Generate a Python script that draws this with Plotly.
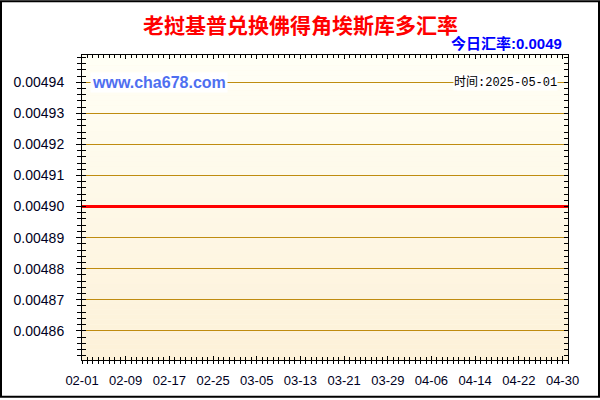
import plotly.graph_objects as go
import pandas as pd

TITLE = "老挝基普兑换佛得角埃斯库多汇率"
TODAY_LABEL = "今日汇率:0.0049"
SITE_LABEL = "www.cha678.com"
TIME_LABEL = "时间:2025-05-01"

dates = pd.date_range("2025-02-01", "2025-05-01", freq="D")
rates = [
    0.0049, 0.0049, 0.0049, 0.0049, 0.0049, 0.0049, 0.0049, 0.0049, 0.0049, 0.0049,
    0.0049, 0.0049, 0.0049, 0.0049, 0.0049, 0.0049, 0.0049, 0.0049, 0.0049, 0.0049,
    0.0049, 0.0049, 0.0049, 0.0049, 0.0049, 0.0049, 0.0049, 0.0049, 0.0049, 0.0049,
    0.0049, 0.0049, 0.0049, 0.0049, 0.0049, 0.0049, 0.0049, 0.0049, 0.0049, 0.0049,
    0.0049, 0.0049, 0.0049, 0.0049, 0.0049, 0.0049, 0.0049, 0.0049, 0.0049, 0.0049,
    0.0049, 0.0049, 0.0049, 0.0049, 0.0049, 0.0049, 0.0049, 0.0049, 0.0049, 0.0049,
    0.0049, 0.0049, 0.0049, 0.0049, 0.0049, 0.0049, 0.0049, 0.0049, 0.0049, 0.0049,
    0.0049, 0.0049, 0.0049, 0.0049, 0.0049, 0.0049, 0.0049, 0.0049, 0.0049, 0.0049,
    0.0049, 0.0049, 0.0049, 0.0049, 0.0049, 0.0049, 0.0049, 0.0049, 0.0049, 0.0049,
]
y_range = [0.0048506, 0.0049488]
x_range = ["2025-02-01", "2025-05-01"]

W, H = 600, 400
ML, MR, MT, MB = 82, 32, 55, 38
PW, PH = W - ML - MR, H - MT - MB

DAY = 86400000
axis_font = dict(family="Liberation Sans, Arial", size=13, color="#000022")

fig = go.Figure()

# background gradient bands (plot area)
top_c = (255, 255, 246)
bot_c = (253, 241, 216)
N = 60
for i in range(N):
    t = (i + 0.5) / N
    c = tuple(round(top_c[k] + (bot_c[k] - top_c[k]) * t) for k in range(3))
    fig.add_shape(type="rect", xref="paper", yref="paper",
                  x0=0, x1=1, y0=1 - (i + 1) / N, y1=1 - i / N,
                  line=dict(width=0), fillcolor="rgb(%d,%d,%d)" % c, layer="below")

fig.add_trace(go.Scatter(x=dates, y=rates, mode="lines",
                         line=dict(color="#FF0000", width=3),
                         showlegend=False, hoverinfo="skip"))
# helper trace for overlay axes (crossing ticks)
fig.add_trace(go.Scatter(x=dates, y=rates, mode="lines", xaxis="x2", yaxis="y2",
                         line=dict(width=0), opacity=0,
                         showlegend=False, hoverinfo="skip"))

fig.update_layout(
    width=W, height=H,
    margin=dict(l=ML, r=MR, t=MT, b=MB, pad=0),
    paper_bgcolor="white",
    plot_bgcolor="#FFF8E8",
    showlegend=False,
    xaxis=dict(
        type="date", range=x_range, tickformat="%m-%d",
        tick0="2025-02-01", dtick=8 * DAY,
        ticks="outside", ticklen=3, tickcolor="black", tickwidth=1,
        minor=dict(dtick=DAY, tick0="2025-02-01", ticks="outside", ticklen=3,
                   tickcolor="black", showgrid=False),
        showline=True, linecolor="black", linewidth=1, mirror=True,
        showgrid=False, zeroline=False, tickfont=axis_font,
        ticklabelstandoff=5,
    ),
    yaxis=dict(
        range=y_range, tick0=0.0049, dtick=0.00001, tickformat=".5f",
        ticks="outside", ticklen=5, tickcolor="black", tickwidth=1,
        minor=dict(dtick=0.000002, ticks="outside", ticklen=4,
                   tickcolor="black", showgrid=False),
        showline=True, linecolor="black", linewidth=1, mirror=True,
        showgrid=True, gridcolor="#BF8C10", gridwidth=1,
        zeroline=False, tickfont=dict(family="Liberation Sans, Arial", size=14, color="#000022"),
        ticklabelstandoff=9,
    ),
    xaxis2=dict(
        type="date", range=x_range, overlaying="x", anchor="y2", side="bottom",
        tick0="2025-02-01", dtick=8 * DAY,
        ticks="inside", ticklen=4, tickcolor="black", tickwidth=1,
        minor=dict(dtick=DAY, tick0="2025-02-01", ticks="inside", ticklen=3,
                   tickcolor="black", showgrid=False),
        mirror="ticks", showline=False, showgrid=False, zeroline=False,
        showticklabels=False,
    ),
    yaxis2=dict(
        range=y_range, overlaying="y", anchor="x2", side="left",
        tick0=0.0049, dtick=0.00001,
        ticks="inside", ticklen=4, tickcolor="black", tickwidth=1,
        minor=dict(dtick=0.000002, ticks="inside", ticklen=4,
                   tickcolor="black", showgrid=False),
        mirror="ticks", showline=False, showgrid=False, zeroline=False,
        showticklabels=False,
    ),
)

# title texts
fig.add_annotation(text="<b>%s</b>" % TITLE, xref="paper", yref="paper",
                   x=(300 - ML) / PW, y=(H - MB - 23.5) / PH,
                   xanchor="center", yanchor="middle", showarrow=False,
                   font=dict(family="Noto Sans CJK SC", size=21, color="#FF0000"))
fig.add_annotation(text="<b>%s</b>" % TODAY_LABEL, xref="paper", yref="paper",
                   x=(564 - ML) / PW, y=(H - MB - 43.5) / PH,
                   xanchor="right", yanchor="middle", showarrow=False,
                   font=dict(family="Liberation Sans, Noto Sans CJK SC", size=15, color="#0000FF"))
fig.add_annotation(text="<b>%s</b>" % SITE_LABEL, xref="paper", yref="y",
                   x=(90 - ML) / PW, y=0.00494,
                   xanchor="left", yanchor="middle", showarrow=False,
                   bgcolor="white", borderpad=1,
                   font=dict(family="Liberation Sans, Arial", size=16, color="#4F6FF0"))
fig.add_annotation(text=TIME_LABEL, xref="paper", yref="y",
                   x=(558 - ML) / PW, y=0.00494,
                   xanchor="right", yanchor="middle", showarrow=False,
                   bgcolor="white", borderpad=0,
                   font=dict(family="Liberation Mono, Noto Sans CJK SC", size=12, color="#000000"))

# outer border
fig.add_shape(type="rect", xref="paper", yref="paper",
              x0=(1 - ML) / PW, x1=(599 - ML) / PW,
              y0=(H - MB - 399) / PH, y1=(H - MB - 1) / PH,
              line=dict(color="black", width=2), fillcolor="rgba(0,0,0,0)", layer="above")

fig.write_html("out.html", config={"displayModeBar": False, "staticPlot": True},
               post_script="document.body.style.margin='0';document.body.style.overflow='hidden';")
